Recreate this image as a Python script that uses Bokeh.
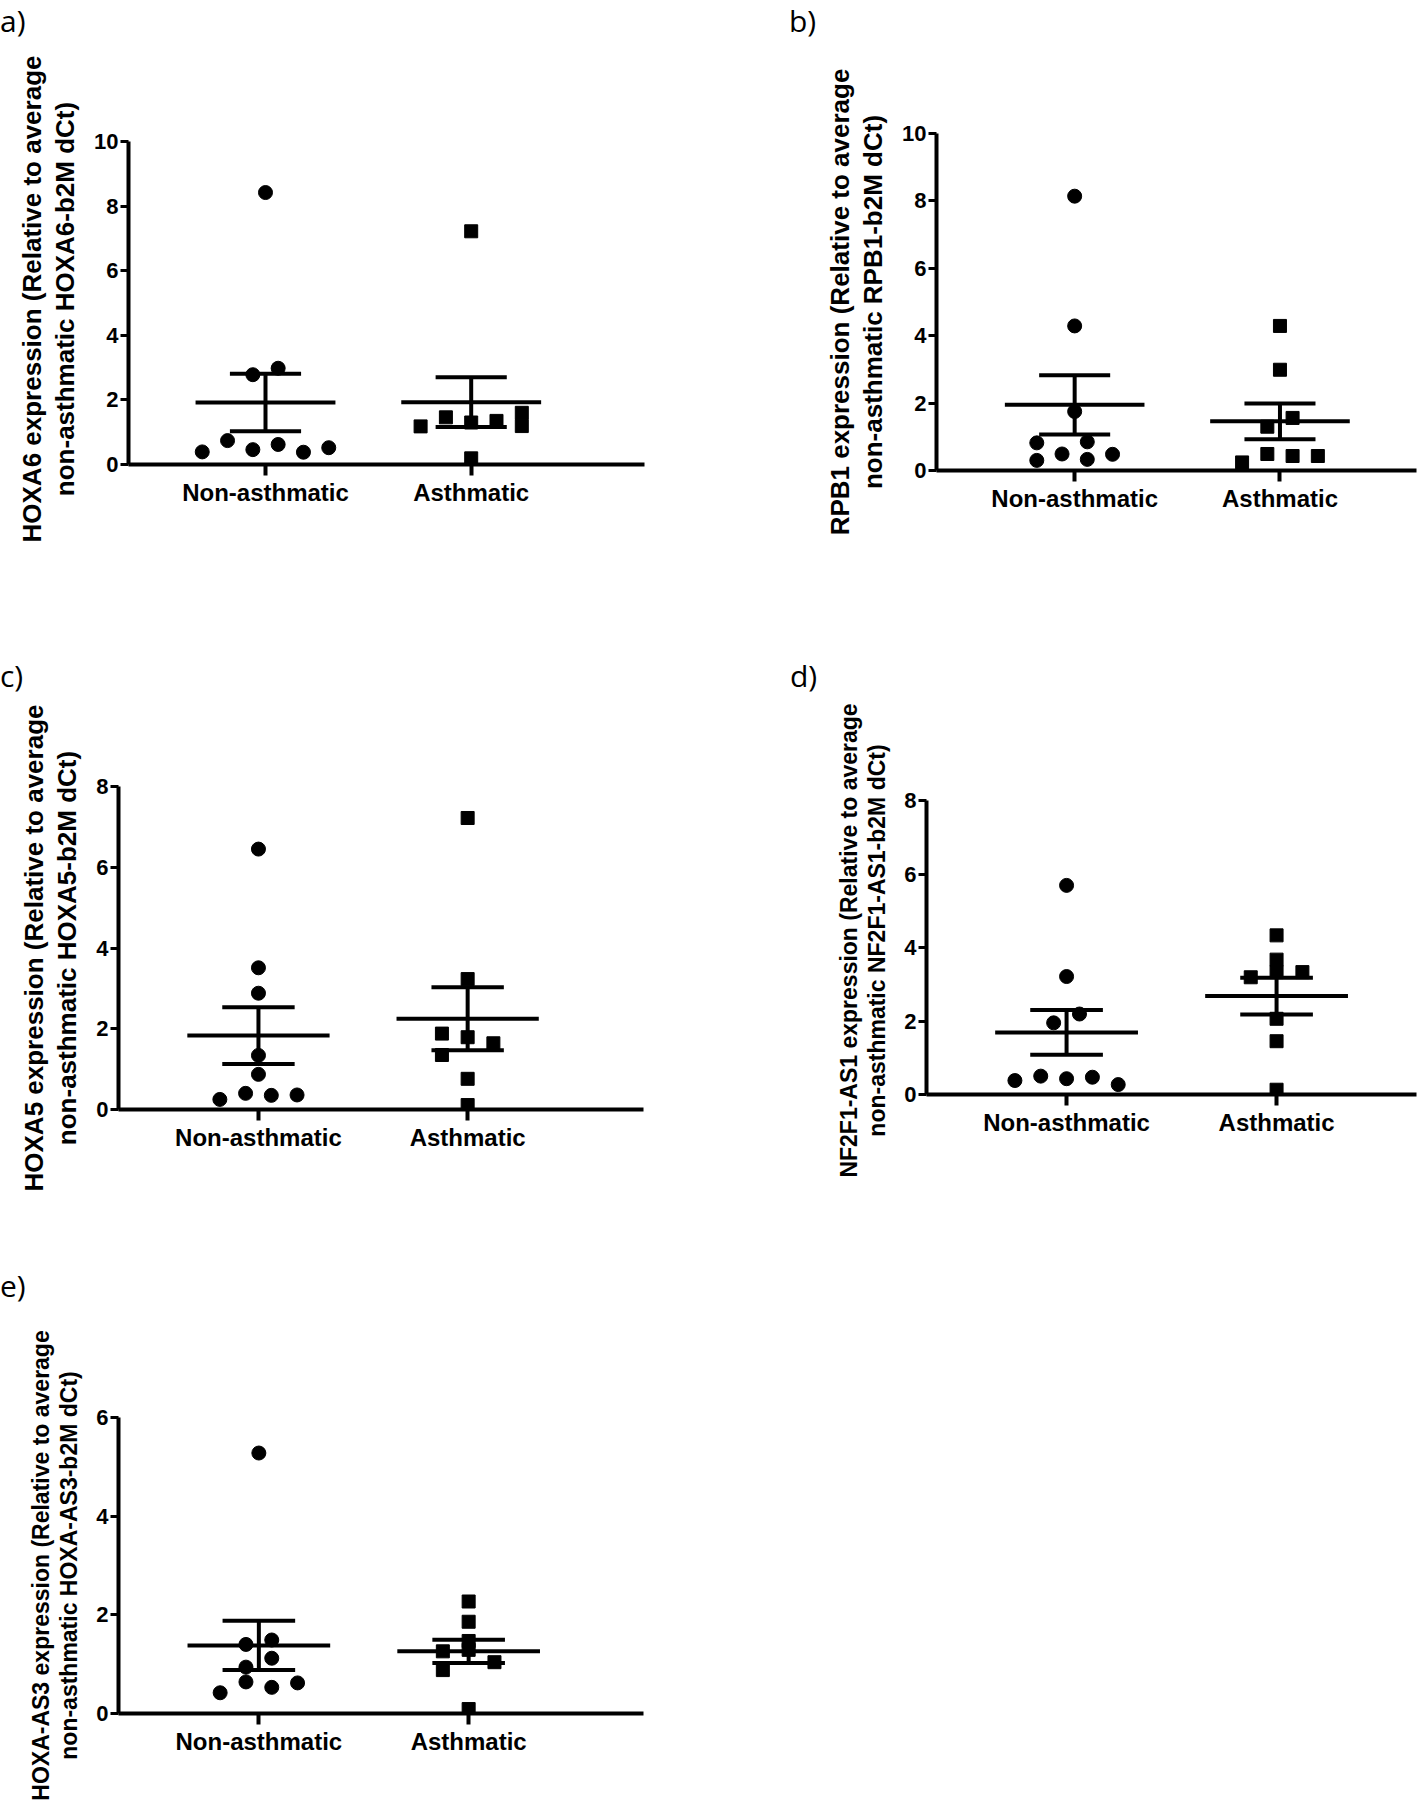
from bokeh.plotting import figure
from bokeh.layouts import column, row
from bokeh.models import FixedTicker, Range1d, Div
from bokeh.embed import file_html
from bokeh.resources import INLINE

# ---------------- data ----------------
categories = ["Non-asthmatic", "Asthmatic"]

# a) HOXA6
a_non = [8.42, 2.78, 2.98, 0.74, 0.39, 0.46, 0.62, 0.38, 0.52]
a_non_slot = [0, -0.5, 0.5, -1.5, -2.5, -0.5, 0.5, 1.5, 2.5]
a_ast = [7.22, 1.18, 1.46, 1.30, 1.35, 1.60, 1.19, 0.19]
a_ast_slot = [0, -2, -1, 0, 1, 2, 2, 0]
a_mean = [1.92, 1.93]
a_sem = [0.89, 0.77]

# b) RPB1
b_non = [8.14, 4.29, 1.75, 0.82, 0.85, 0.30, 0.49, 0.33, 0.48]
b_non_slot = [0, 0, 0, -1.5, 0.5, -1.5, -0.5, 0.5, 1.5]
b_ast = [4.29, 2.99, 1.56, 1.30, 0.49, 0.43, 0.43, 0.24]
b_ast_slot = [0, 0, 0.5, -0.5, -0.5, 0.5, 1.5, -1.5]
b_mean = [1.95, 1.46]
b_sem = [0.88, 0.53]

# c) HOXA5
c_non = [6.45, 3.51, 2.88, 1.34, 0.87, 0.25, 0.40, 0.35, 0.36]
c_non_slot = [0, 0, 0, 0, 0, -1.5, -0.5, 0.5, 1.5]
c_ast = [7.22, 3.23, 1.88, 1.79, 1.64, 1.35, 0.76, 0.11]
c_ast_slot = [0, 0, -1, 0, 1, -1, 0, 0]
c_mean = [1.83, 2.25]
c_sem = [0.70, 0.78]

# d) NF2F1-AS1
d_non = [5.69, 3.21, 2.19, 1.95, 0.38, 0.50, 0.43, 0.47, 0.27]
d_non_slot = [0, 0, 0.5, -0.5, -2, -1, 0, 1, 2]
d_ast = [4.33, 3.67, 3.33, 3.33, 3.19, 2.06, 1.45, 0.13]
d_ast_slot = [0, 0, 0, 1, -1, 0, 0, 0]
d_mean = [1.69, 2.68]
d_sem = [0.61, 0.50]

# e) HOXA-AS3
e_non = [5.28, 1.40, 1.49, 1.12, 0.94, 0.64, 0.42, 0.53, 0.62]
e_non_slot = [0, -0.5, 0.5, 0.5, -0.5, -0.5, -1.5, 0.5, 1.5]
e_ast = [2.27, 1.86, 1.47, 1.29, 1.26, 1.04, 0.88, 0.09]
e_ast_slot = [0, 0, 0, 0, -1, 1, -1, 0]
e_mean = [1.38, 1.26]
e_sem = [0.50, 0.235]

y_labels = {
    "a": "HOXA6 expression (Relative to average\nnon-asthmatic HOXA6-b2M dCt)",
    "b": "RPB1 expression (Relative to average\nnon-asthmatic RPB1-b2M dCt)",
    "c": "HOXA5 expression (Relative to average\nnon-asthmatic HOXA5-b2M dCt)",
    "d": "NF2F1-AS1 expression (Relative to average\nnon-asthmatic NF2F1-AS1-b2M dCt)",
    "e": "HOXA-AS3 expression (Relative to average\nnon-asthmatic HOXA-AS3-b2M dCt)",
}
y_ticks = {
    "a": [0, 2, 4, 6, 8, 10],
    "b": [0, 2, 4, 6, 8, 10],
    "c": [0, 2, 4, 6, 8],
    "d": [0, 2, 4, 6, 8],
    "e": [0, 2, 4, 6],
}

# ---------------- layout / style ----------------
FONT = "Liberation Sans"
SLOT = 0.123
MEAN_HALF = 0.34
CAP_HALF = 0.173
HEAD = 45  # height of the strip holding the panel letter

geom = {
    "a": dict(rowT=133, T=141, H=323, B=186, L=128, W=516, R=56, x0=0.334, unit=205.7, lpx=0, lpy=6, lab=26),
    "b": dict(rowT=133, T=133, H=337, B=180, L=236, W=480, R=2, x0=0.327, unit=205.3, lpx=89, lpy=6, lab=26),
    "c": dict(rowT=136, T=136, H=323, B=151, L=118, W=525, R=57, x0=0.331, unit=209.2, lpx=0, lpy=11, lab=26),
    "d": dict(rowT=136, T=150, H=294, B=166, L=226, W=490, R=2, x0=0.333, unit=210.0, lpx=90, lpy=11, lab=23),
    "e": dict(rowT=157, T=157, H=296, B=97, L=118, W=525, R=57, x0=0.331, unit=209.8, lpx=0, lpy=11, lab=23),
}


def make_panel(key, non, non_slot, ast, ast_slot, mean, sem):
    g = geom[key]
    ymax = y_ticks[key][-1]
    extra = g["T"] - g["rowT"]
    frame_h = g["H"] + extra
    y_end = ymax + extra * ymax / g["H"]
    p = figure(frame_width=g["W"], frame_height=frame_h,
               min_border_left=g["L"], min_border_top=g["rowT"] - HEAD,
               min_border_bottom=g["B"], min_border_right=g["R"],
               x_range=Range1d(g["x0"], g["x0"] + g["W"] / g["unit"]),
               y_range=Range1d(0, y_end),
               output_backend="svg", toolbar_location=None)
    p.outline_line_color = None
    p.xgrid.visible = False
    p.ygrid.visible = False
    p.background_fill_color = None
    p.border_fill_color = "white"

    xa = p.xaxis[0]
    xa.ticker = FixedTicker(ticks=[1, 2])
    xa.major_label_overrides = {1: categories[0], 2: categories[1]}
    xa.axis_line_width = 4
    xa.axis_line_color = "black"
    xa.major_tick_line_width = 4
    xa.major_tick_line_color = "black"
    xa.major_tick_out = 11
    xa.major_tick_in = 0
    xa.minor_tick_line_color = None
    xa.major_label_text_font = FONT
    xa.major_label_text_font_style = "bold"
    xa.major_label_text_font_size = "24px"
    xa.major_label_text_color = "black"
    xa.major_label_standoff = 3

    ya = p.yaxis[0]
    ya.ticker = FixedTicker(ticks=y_ticks[key])
    ya.bounds = (0, ymax)
    ya.axis_line_width = 4
    ya.axis_line_color = "black"
    ya.major_tick_line_width = 3
    ya.major_tick_line_color = "black"
    ya.major_tick_out = 8
    ya.major_tick_in = 0
    ya.minor_tick_line_color = None
    ya.major_label_text_font = FONT
    ya.major_label_text_font_style = "bold"
    ya.major_label_text_font_size = "22px"
    ya.major_label_text_color = "black"
    ya.major_label_standoff = 2
    ya.axis_label = y_labels[key]
    ya.axis_label_text_font = FONT
    ya.axis_label_text_font_style = "bold"
    ya.axis_label_text_font_size = "%dpx" % g["lab"]
    ya.axis_label_text_color = "black"
    ya.axis_label_text_line_height = 1.1
    ya.axis_label_standoff = 11

    xn = [1 + s * SLOT for s in non_slot]
    xs = [2 + s * SLOT for s in ast_slot]
    p.scatter(xn, non, marker="circle", size=14, fill_color="black", line_color="black")
    p.scatter(xs, ast, marker="square", size=13, fill_color="black", line_color="black")

    cx = [1, 2]
    up = [m + s for m, s in zip(mean, sem)]
    lo = [m - s for m, s in zip(mean, sem)]
    p.segment(x0=[c - MEAN_HALF for c in cx], y0=mean, x1=[c + MEAN_HALF for c in cx], y1=mean,
              line_width=4, line_color="black")
    p.segment(x0=[c - CAP_HALF for c in cx], y0=up, x1=[c + CAP_HALF for c in cx], y1=up,
              line_width=4, line_color="black")
    p.segment(x0=[c - CAP_HALF for c in cx], y0=lo, x1=[c + CAP_HALF for c in cx], y1=lo,
              line_width=4, line_color="black")
    p.segment(x0=cx, y0=lo, x1=cx, y1=up, line_width=4, line_color="black")

    head = Div(text=key + ")", width=60, height=30,
               margin=(g["lpy"], 0, HEAD - 30 - g["lpy"], g["lpx"]),
               styles={"font-family": "'Open Sans'", "font-size": "30px",
                       "line-height": "30px", "color": "black", "font-weight": "normal"})
    return column(head, p, spacing=0)


pa = make_panel("a", a_non, a_non_slot, a_ast, a_ast_slot, a_mean, a_sem)
pb = make_panel("b", b_non, b_non_slot, b_ast, b_ast_slot, b_mean, b_sem)
pc = make_panel("c", c_non, c_non_slot, c_ast, c_ast_slot, c_mean, c_sem)
pd = make_panel("d", d_non, d_non_slot, d_ast, d_ast_slot, d_mean, d_sem)
pe = make_panel("e", e_non, e_non_slot, e_ast, e_ast_slot, e_mean, e_sem)

layout = column(row(pa, pb, spacing=0), row(pc, pd, spacing=0), row(pe, spacing=0), spacing=0)

open("out.html", "w").write(file_html(layout, INLINE))
